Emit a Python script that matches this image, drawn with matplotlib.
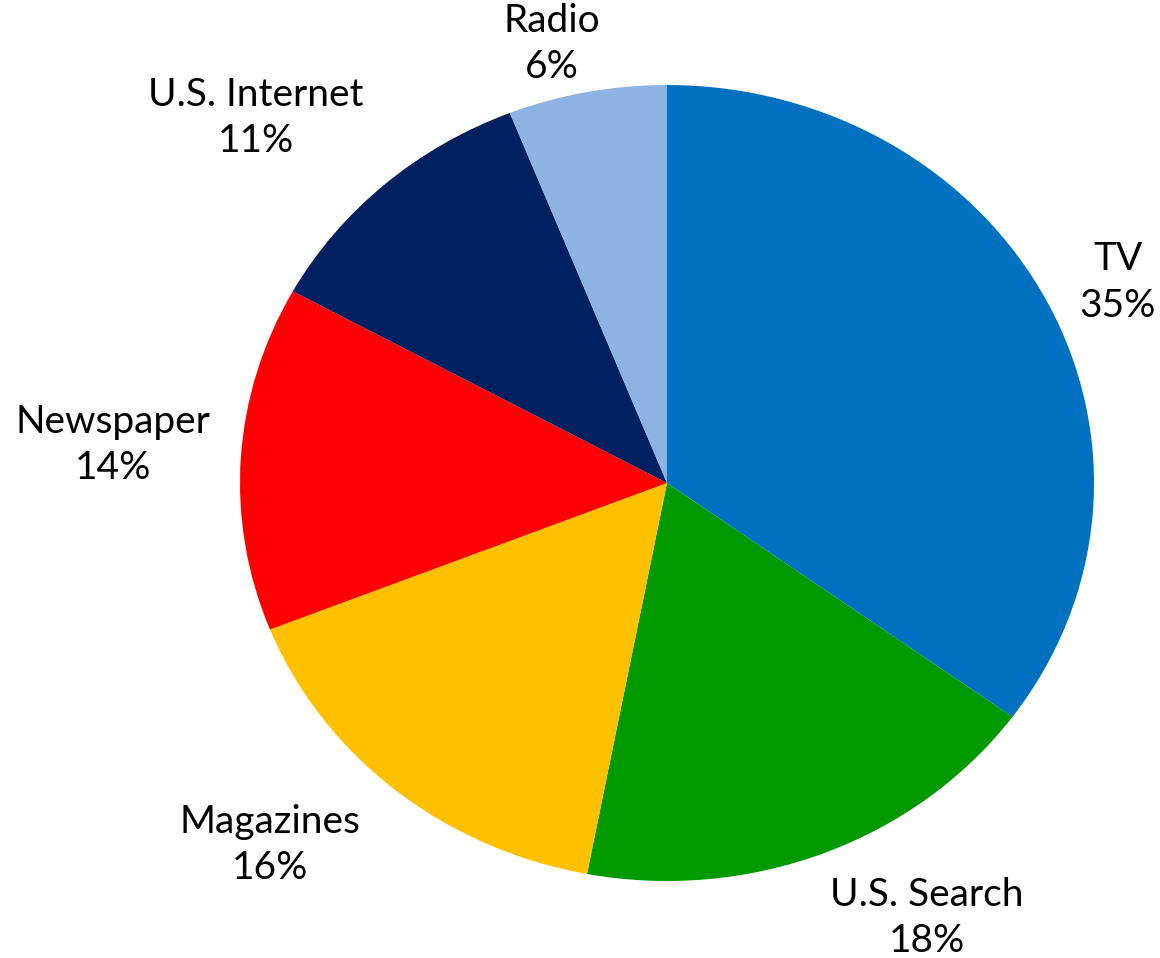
import numpy as np
import matplotlib
matplotlib.use("Agg")
import matplotlib.pyplot as plt

categories = ["TV", "U.S. Search", "Magazines", "Newspaper", "U.S. Internet", "Radio"]
shares = [35, 18, 16, 14, 11, 6]
colors = ["#0070C0", "#009900", "#FFC000", "#FF0000", "#002060", "#8DB3E2"]

# label placement: distance from centre and angular nudge (degrees)
label_radius = [1.17, 1.25, 1.30, 1.30, 1.33, 1.135]
label_nudge = [-1.5, 7.5, -6, -0.6, 5, 3]

fig = plt.figure(figsize=(11.6, 9.58), dpi=100)
ax = fig.add_axes([0, 0, 1, 1])

wedges, _ = ax.pie(shares, colors=colors, startangle=90, counterclock=False,
                   radius=1.0, wedgeprops=dict(linewidth=0))

# pie is drawn slightly wider than tall
ax.set_aspect("auto")
cx, cy = 667, 483
rx, ry = 427, 398
ax.set_xlim(-cx / rx, (1160 - cx) / rx)
ax.set_ylim(-(958 - cy) / ry, cy / ry)
ax.axis("off")

for w, name, val, r, nd in zip(wedges, categories, shares, label_radius, label_nudge):
    ang = np.deg2rad((w.theta1 + w.theta2) / 2 + nd)
    ax.text(r * np.cos(ang), r * np.sin(ang), "%s\n%d%%" % (name, val),
            ha="center", va="center", fontsize=28, family="Lato",
            linespacing=1.35, color="black")

fig.savefig("out.png", dpi=100)
